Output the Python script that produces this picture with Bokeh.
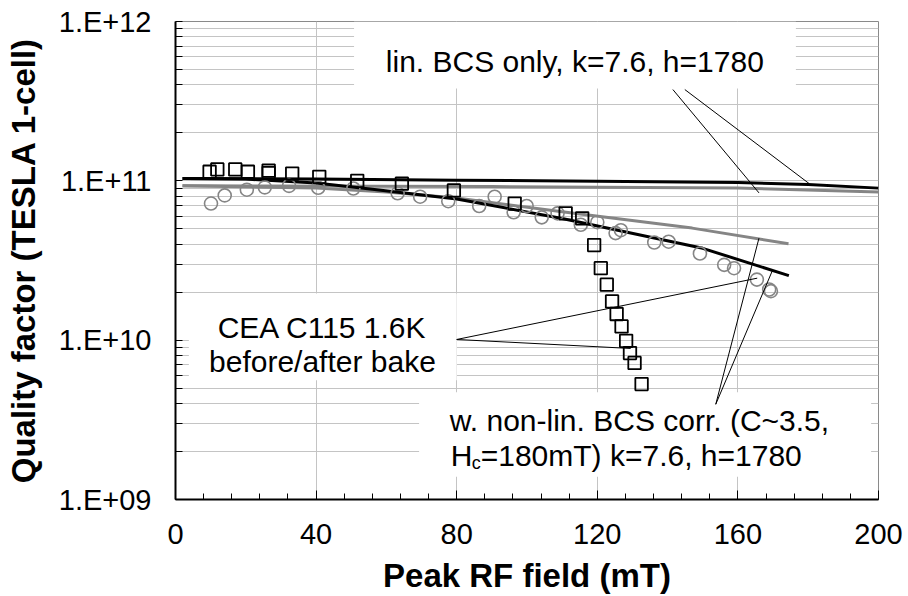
from bokeh.plotting import figure
from bokeh.models import Range1d, FixedTicker, CustomJSTickFormatter, Label
from bokeh.embed import file_html
from bokeh.resources import INLINE

# ---- measured data: CEA C115 1.6K ----
# squares (before bake)
sq_field = [9.7, 11.9, 17.0, 20.6, 26.5, 26.5, 33.2, 40.9, 51.7, 64.4, 79.2, 96.5,
            111.0, 115.7, 119.1, 121.0, 122.7, 124.2, 125.5, 126.9, 128.2, 129.3, 130.6, 132.6]
sq_q = [1.14e11, 1.18e11, 1.18e11, 1.14e11, 1.16e11, 1.12e11, 1.11e11, 1.06e11, 1.0e11, 9.6e10, 8.7e10, 7.2e10,
        6.25e10, 5.82e10, 3.95e10, 2.83e10, 2.23e10, 1.75e10, 1.46e10, 1.22e10, 9.9e9, 8.3e9, 7.2e9, 5.3e9]
# circles (after bake)
ci_field = [10.1, 14.0, 20.3, 25.4, 32.3, 40.6, 50.6, 63.2, 69.6, 77.6, 86.4, 90.8, 96.2, 99.9,
            104.2, 108.7, 115.3, 120.0, 125.2, 126.7, 136.2, 140.3, 149.2, 156.1, 158.9, 165.4, 168.9, 169.4]
ci_q = [7.2e10, 8.1e10, 8.8e10, 9.1e10, 9.3e10, 9.05e10, 8.95e10, 8.35e10, 7.95e10, 7.45e10, 6.95e10, 7.95e10, 6.35e10, 6.95e10,
        5.9e10, 6.25e10, 5.3e10, 5.5e10, 4.7e10, 4.9e10, 4.1e10, 4.15e10, 3.5e10, 2.97e10, 2.83e10, 2.4e10, 2.08e10, 2.03e10]

# ---- model curves ----
lin_blk_field = [2, 40, 80, 120, 160, 180, 200]
lin_blk_q = [1.035e11, 1.025e11, 1.01e11, 9.95e10, 9.75e10, 9.5e10, 9.0e10]
lin_gry_field = [2, 90, 160, 200]
lin_gry_q = [9.3e10, 9.2e10, 9.0e10, 8.5e10]
nl_blk_field = [2, 20, 40, 56, 80, 110, 150, 174.5]
nl_blk_q = [1.035e11, 1.025e11, 9.7e10, 8.85e10, 7.7e10, 5.8e10, 3.77e10, 2.54e10]
nl_gry_field = [2, 40, 60, 80, 110, 147, 174.4]
nl_gry_q = [9.3e10, 9.0e10, 8.5e10, 7.8e10, 6.4e10, 5.05e10, 4.03e10]

# ---- axis ticks ----
x_ticks = [0, 40, 80, 120, 160, 200]
x_minor = [8 * i for i in range(26)]
y_ticks = [1e9, 1e10, 1e11, 1e12]
y_minor = [m * 10.0 ** d for d in (9, 10, 11) for m in range(2, 10)]

# ---- annotation geometry (data units) ----
box_left = [50.8, 3.8, 69.3]
box_right = [176.5, 80.0, 197.9]
box_bottom = [3.8e11, 5.6e9, 1.39e9]
box_top = [1e12, 1.96e10, 4.71e9]

lead_x0 = [141.5, 144.9, 80.0, 80.0, 153.7, 153.7]
lead_y0 = [3.74e11, 3.74e11, 1.01e10, 1.01e10, 3.96e9, 3.96e9]
lead_x1 = [166.0, 180.3, 165.5, 129.5, 166.0, 169.8]
lead_y1 = [8.4e10, 9.6e10, 2.45e10, 8.87e9, 4.37e10, 2.73e10]

FONT = "Liberation Sans"
GRAY = "#858585"

p = figure(width=908, height=596, x_range=Range1d(0, 200), y_range=Range1d(1e9, 1e12),
           y_axis_type="log", output_backend="svg", toolbar_location=None,
           min_border_left=175, min_border_right=30, min_border_top=21, min_border_bottom=95,
           background_fill_color="white", border_fill_color="white")

p.outline_line_color = "#8a8a8a"
p.outline_line_width = 1

# axes
p.xaxis.ticker = FixedTicker(ticks=x_ticks, minor_ticks=x_minor)
p.yaxis.ticker = FixedTicker(ticks=y_ticks, minor_ticks=y_minor)
p.yaxis.formatter = CustomJSTickFormatter(code="""
const e = Math.round(Math.log10(tick));
return '1.E+' + (e < 10 ? '0' + e : '' + e);
""")
for ax in (p.xaxis, p.yaxis):
    ax.axis_line_color = "black"
    ax.axis_line_width = 2
    ax.major_tick_line_color = "black"
    ax.minor_tick_line_color = "black"
    ax.major_tick_out = 0
    ax.minor_tick_out = 0
    ax.major_label_text_font = FONT
    ax.major_label_text_font_size = "29px"
    ax.major_label_text_color = "black"
    ax.axis_label_text_font = FONT
    ax.axis_label_text_font_style = "bold"
    ax.axis_label_text_font_size = "33px"
    ax.axis_label_text_color = "black"
p.xaxis.major_tick_in = 9
p.xaxis.minor_tick_in = 6
p.yaxis.major_tick_in = 7
p.yaxis.minor_tick_in = 7
p.xaxis.major_label_standoff = 24
p.yaxis.major_label_standoff = 24
p.xaxis.axis_label_standoff = 10
p.yaxis.axis_label_standoff = 14
p.xaxis.axis_label = "Peak RF field (mT)"
p.yaxis.axis_label = "Quality factor (TESLA 1-cell)"

# grid
p.xgrid.grid_line_color = "#c4c4c4"
p.ygrid.grid_line_color = "#c4c4c4"
p.ygrid.minor_grid_line_color = "#c4c4c4"

# white text boxes
p.quad(left=box_left, right=box_right, bottom=box_bottom, top=box_top,
       fill_color="white", line_color=None)

# model curves
p.line(lin_gry_field, lin_gry_q, line_color=GRAY, line_width=3)
p.line(nl_gry_field, nl_gry_q, line_color=GRAY, line_width=3)
p.line(lin_blk_field, lin_blk_q, line_color="black", line_width=3)
p.line(nl_blk_field, nl_blk_q, line_color="black", line_width=3)

# data
p.scatter(ci_field, ci_q, marker="circle", size=13, fill_color=None,
          line_color=GRAY, line_width=1.6)
p.scatter(sq_field, sq_q, marker="square", size=12.5, fill_color=None,
          line_color="black", line_width=1.8)

# leader lines
p.segment(x0=lead_x0, y0=lead_y0, x1=lead_x1, y1=lead_y1, line_color="black", line_width=1)

def lab(x, y, text, align="center", size="30px", xo=0, yo=0):
    p.add_layout(Label(x=x, y=y, text=text, text_align=align, text_baseline="alphabetic",
                       text_font=FONT, text_font_size=size, text_color="black",
                       x_offset=xo, y_offset=yo))

lab(113.6, 5.6e11, "lin. BCS only, k=7.6, h=1780")
lab(41.8, 1.2e10, "CEA C115 1.6K")
lab(41.8, 7.4e9, "before/after bake")
lab(132.0, 3.12e9, "w. non-lin. BCS corr. (C~3.5,")
lab(78.3, 1.88e9, "H", align="left")
lab(78.3, 1.88e9, "c", align="left", size="18px", xo=21, yo=-7)
lab(78.3, 1.88e9, "=180mT) k=7.6, h=1780", align="left", xo=30)

open("out.html", "w").write(file_html(p, INLINE))
